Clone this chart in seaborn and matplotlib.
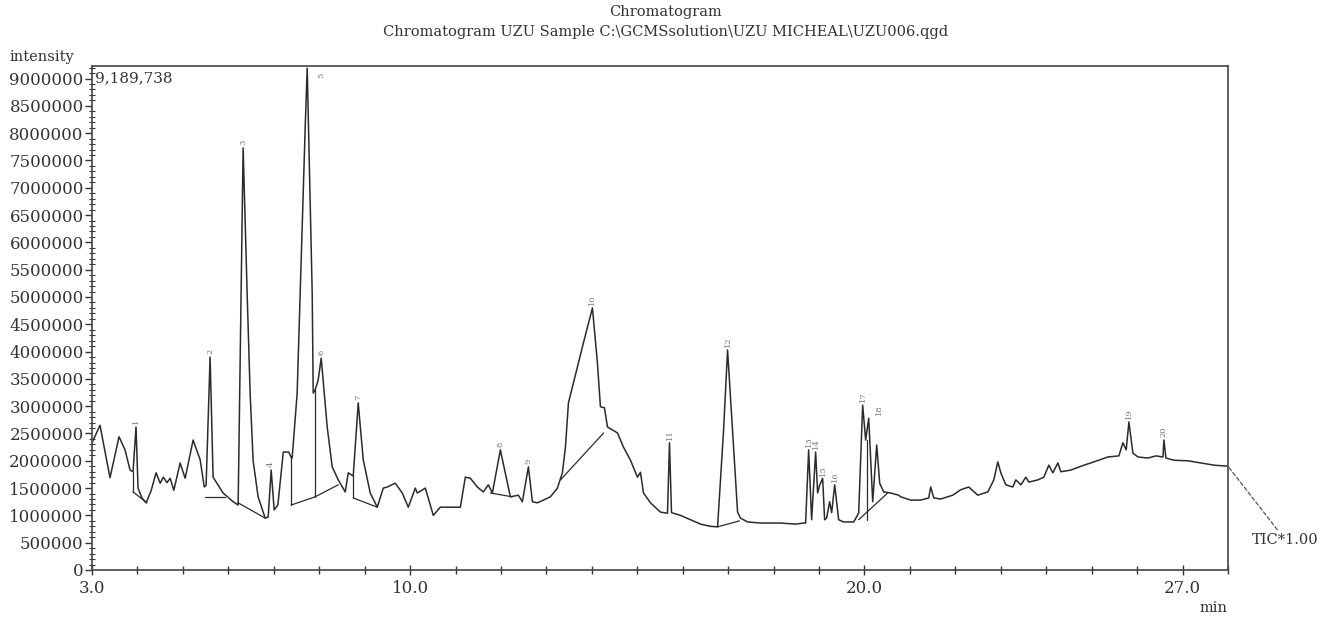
import numpy as np
import pandas as pd
import matplotlib
matplotlib.use("Agg")
import matplotlib.pyplot as plt
from matplotlib.ticker import MultipleLocator, FixedLocator, FuncFormatter
import seaborn as sns

# ---------------- data ----------------
retention_min = [
    3.000, 3.176, 3.396, 3.595, 3.727, 3.837, 3.903, 3.969, 4.013, 4.100,
    4.190, 4.300, 4.410, 4.500, 4.570, 4.650, 4.720, 4.800, 4.940, 5.050,
    5.225, 5.380, 5.470, 5.511, 5.599, 5.665, 5.885, 6.106, 6.216, 6.326,
    6.414, 6.480, 6.546, 6.656, 6.767, 6.811, 6.877, 6.943, 7.009, 7.090,
    7.210, 7.330, 7.390, 7.405, 7.515, 7.625, 7.692, 7.736, 7.780, 7.846,
    7.868, 7.912, 7.978, 8.044, 8.110, 8.176, 8.286, 8.419, 8.573, 8.639,
    8.749, 8.859, 8.969, 9.123, 9.278, 9.410, 9.498, 9.674, 9.828, 9.960,
    10.115, 10.159, 10.335, 10.511, 10.665, 11.106, 11.216, 11.326, 11.480, 11.612,
    11.722, 11.811, 11.987, 12.207, 12.383, 12.471, 12.604, 12.692, 12.802, 12.934,
    13.088, 13.242, 13.352, 13.419, 13.485, 13.683, 13.815, 14.013, 14.123, 14.189,
    14.278, 14.344, 14.564, 14.696, 14.850, 15.004, 15.070, 15.137, 15.291, 15.511,
    15.665, 15.709, 15.753, 15.952, 16.172, 16.392, 16.612, 16.767, 16.899, 16.987,
    17.097, 17.207, 17.273, 17.427, 17.714, 18.154, 18.485, 18.661, 18.705, 18.771,
    18.837, 18.925, 18.969, 19.013, 19.079, 19.123, 19.167, 19.233, 19.278, 19.344,
    19.432, 19.542, 19.762, 19.872, 19.960, 20.026, 20.093, 20.181, 20.269, 20.335,
    20.423, 20.577, 20.753, 20.797, 21.018, 21.238, 21.414, 21.458, 21.524, 21.678,
    21.943, 22.119, 22.295, 22.493, 22.714, 22.846, 22.934, 23.000, 23.110, 23.264,
    23.330, 23.441, 23.551, 23.617, 23.815, 23.947, 24.057, 24.145, 24.256, 24.322,
    24.542, 24.762, 25.048, 25.357, 25.599, 25.687, 25.760, 25.819, 25.907, 26.018,
    26.238, 26.414, 26.568, 26.590, 26.634, 26.811, 27.119, 27.405, 27.692, 28.000,
]
# intensity in millions of counts
intensity_millions = [
    2.33, 2.65, 1.69, 2.44, 2.20, 1.83, 1.80, 2.62, 1.50, 1.32,
    1.23, 1.45, 1.78, 1.59, 1.70, 1.60, 1.68, 1.46, 1.96, 1.68,
    2.38, 2.02, 1.52, 1.55, 3.90, 1.70, 1.41, 1.25, 1.19, 7.73,
    5.07, 3.24, 2.00, 1.34, 1.06, 0.95, 0.97, 1.83, 1.10, 1.19,
    2.16, 2.16, 2.05, 2.05, 3.24, 6.28, 8.11, 9.19, 7.51, 5.07,
    3.24, 3.30, 3.48, 3.88, 3.24, 2.62, 1.89, 1.65, 1.43, 1.78,
    1.72, 3.06, 2.02, 1.41, 1.15, 1.50, 1.52, 1.59, 1.41, 1.15,
    1.50, 1.41, 1.50, 1.00, 1.15, 1.15, 1.70, 1.68, 1.52, 1.43,
    1.56, 1.41, 2.20, 1.34, 1.37, 1.25, 1.89, 1.25, 1.23, 1.28,
    1.34, 1.50, 1.78, 2.25, 3.06, 3.72, 4.16, 4.80, 3.79, 2.99,
    2.97, 2.62, 2.51, 2.25, 2.01, 1.70, 1.79, 1.41, 1.23, 1.06,
    1.04, 2.33, 1.05, 1.00, 0.92, 0.84, 0.80, 0.79, 2.56, 4.03,
    2.56, 1.06, 0.95, 0.88, 0.86, 0.86, 0.84, 0.86, 0.86, 2.20,
    0.92, 2.16, 1.41, 1.55, 1.68, 0.92, 0.95, 1.25, 1.05, 1.56,
    0.92, 0.88, 0.88, 1.04, 3.02, 2.38, 2.78, 1.25, 2.29, 1.59,
    1.43, 1.41, 1.37, 1.34, 1.28, 1.28, 1.32, 1.52, 1.32, 1.30,
    1.37, 1.47, 1.52, 1.37, 1.43, 1.65, 1.98, 1.78, 1.56, 1.52,
    1.65, 1.56, 1.70, 1.61, 1.65, 1.70, 1.92, 1.78, 1.96, 1.80,
    1.83, 1.90, 1.98, 2.07, 2.09, 2.33, 2.20, 2.71, 2.14, 2.07,
    2.05, 2.09, 2.07, 2.38, 2.05, 2.01, 2.00, 1.96, 1.92, 1.90,
]

# numbered peaks (label, apex time, apex intensity in millions)
peak_numbers = [str(i) for i in range(1, 21)]
peak_times = [3.969, 5.599, 6.326, 6.943, 7.736, 8.044, 8.859, 11.987, 12.604, 14.013,
              15.709, 16.987, 18.771, 18.925, 19.079, 19.344, 19.960, 20.093, 25.819, 26.590]
peak_heights_millions = [2.62, 3.90, 7.73, 1.83, 9.19, 3.88, 3.06, 2.20, 1.89, 4.80,
                         2.33, 4.03, 2.20, 2.16, 1.68, 1.56, 3.02, 2.78, 2.71, 2.38]

# integration baselines / drop lines (start time, start int., end time, end int.; millions)
base_t0 = [3.903, 3.903, 5.49, 6.216, 7.383, 7.383, 7.912, 7.912, 8.749, 8.749, 11.767, 13.31, 16.767, 20.048, 19.872]
base_i0 = [1.80, 1.43, 1.33, 1.23, 2.06, 1.19, 3.30, 1.34, 1.72, 1.32, 1.41, 1.65, 0.79, 2.38, 0.92]
base_t1 = [3.903, 4.211, 5.93, 6.811, 7.383, 7.912, 7.912, 8.419, 8.749, 9.278, 12.251, 14.26, 17.25, 20.048, 20.51]
base_i1 = [1.43, 1.23, 1.33, 0.95, 1.19, 1.34, 1.34, 1.56, 1.32, 1.15, 1.34, 2.51, 0.90, 0.92, 1.41]

y_ticks = [0, 500000, 1000000, 1500000, 2000000, 2500000, 3000000, 3500000, 4000000,
           4500000, 5000000, 5500000, 6000000, 6500000, 7000000, 7500000, 8000000,
           8500000, 9000000]
x_ticks = [3.0, 10.0, 20.0, 27.0]
max_label = "9,189,738"
title_line1 = "Chromatogram"
title_line2 = "Chromatogram UZU Sample C:\\GCMSsolution\\UZU MICHEAL\\UZU006.qgd"

# ---------------- plotting ----------------
M = 1e6
df = pd.DataFrame({"time": retention_min,
                   "intensity": np.array(intensity_millions) * M})

sns.set_style("ticks")
plt.rcParams["font.family"] = ["DejaVu Serif"]

W, H = 1325, 618
fig = plt.figure(figsize=(W / 100, H / 100), dpi=100)
ax = fig.add_axes([92 / W, 48 / H, 1136 / W, 504 / H])

line_col = "#2b2b2b"
sns.lineplot(data=df, x="time", y="intensity", ax=ax, sort=False,
             estimator=None, color=line_col, lw=1.1)

for a, b, c, d in zip(base_t0, base_i0, base_t1, base_i1):
    ax.plot([a, c], [b * M, d * M], color=line_col, lw=0.9)

for lab, t, h in zip(peak_numbers, peak_times, peak_heights_millions):
    if lab == "5":
        ax.text(t + 0.3, 9.1 * M, lab, rotation=90, fontsize=6, color="#777",
                ha="center", va="top")
    elif lab == "18":
        ax.text(t + 0.22, h * M + 0.05 * M, lab, rotation=90, fontsize=6,
                color="#777", ha="center", va="bottom")
    else:
        ax.text(t, h * M + 0.05 * M, lab, rotation=90, fontsize=6, color="#777",
                ha="center", va="bottom")

ax.set_xlim(3.0, 28.0)
ax.set_ylim(0, 9.23e6)
ax.set_xlabel("")
ax.set_ylabel("")

ax.xaxis.set_major_locator(FixedLocator(x_ticks))
ax.xaxis.set_minor_locator(MultipleLocator(1.0))
ax.xaxis.set_major_formatter(FuncFormatter(lambda v, p: f"{v:.1f}"))
ax.yaxis.set_major_locator(FixedLocator(y_ticks))
ax.yaxis.set_minor_locator(MultipleLocator(100000))
ax.yaxis.set_major_formatter(FuncFormatter(lambda v, p: f"{int(round(v))}"))

ax.tick_params(axis="y", which="major", direction="out", length=5, width=1,
               labelsize=12, pad=1, color="#333")
ax.tick_params(axis="y", which="minor", direction="inout", length=4, width=0.8, color="#333")
ax.tick_params(axis="x", which="major", direction="inout", length=7, width=1,
               labelsize=12, pad=4, color="#333")
ax.tick_params(axis="x", which="minor", direction="inout", length=6, width=1, color="#333")
for lbl in ax.get_xticklabels() + ax.get_yticklabels():
    lbl.set_color("#333")

for s in ax.spines.values():
    s.set_visible(True)
    s.set_color("#444")
    s.set_linewidth(1.2)

ax.text(0.003, 0.975, max_label, transform=ax.transAxes, ha="left", va="center",
        fontsize=11, color="#333")

fig.text(0.502, 1 - 12 / H, title_line1, ha="center", va="center", fontsize=10.5, color="#333")
fig.text(0.502, 1 - 32 / H, title_line2, ha="center", va="center", fontsize=10.5, color="#333")
fig.text(10 / W, 1 - 57 / H, "intensity", ha="left", va="center", fontsize=10.5, color="#333")
fig.text(1213 / W, 1 - 608 / H, "min", ha="center", va="center", fontsize=10.5, color="#333")

ax.annotate("TIC*1.00", xy=(retention_min[-1], intensity_millions[-1] * M),
            xytext=(1252 / W, 1 - 540 / H), textcoords="figure fraction",
            ha="left", va="center", fontsize=10.5, color="#333",
            arrowprops=dict(arrowstyle="-", linestyle=(0, (3, 2)), color="#555",
                            lw=0.9, shrinkA=0, shrinkB=0))

fig.savefig("out.png", dpi=100)
